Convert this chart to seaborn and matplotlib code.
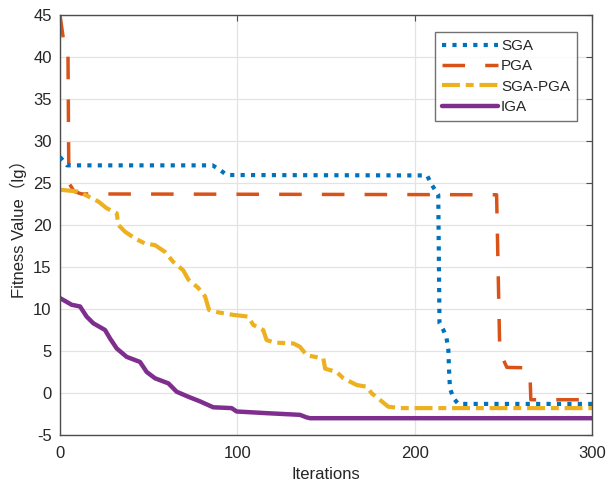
import matplotlib
matplotlib.use("Agg")
import matplotlib.pyplot as plt
import seaborn as sns

# ---- data ----
sga_x = [0, 4, 86, 90, 94, 207, 209.6, 213.3, 214, 216.2, 218, 219, 219.4, 219.9, 221.8, 224.6, 300]
sga_y = [28.1, 27.1, 27.1, 26.6, 25.95, 25.9, 24.8, 23.6, 8.3, 7.5, 6.5, 5.1, 2.7, 0.56, -0.6, -1.3, -1.3]

pga_x = [0, 2, 4.5, 5, 8, 12, 245, 246.2, 248, 252, 263, 265, 265.5, 300]
pga_y = [45, 42, 40.5, 25, 24, 23.7, 23.6, 23.6, 4.9, 3.05, 3.0, 2.5, -0.8, -0.8]

sgapga_x = [0, 9.4, 14.1, 21.6, 26.3, 32, 32.9, 36.7, 42.3, 47.9, 53.6, 59.2, 63.9, 69.5,
            72.4, 78, 81.8, 84, 89.3, 97.7, 106, 109, 114.6, 116.5, 121.2, 131.6, 135.3,
            139.1, 148.5, 149.5, 156, 159.8, 167.3, 172.9, 175.8, 180.5, 185.1, 191.7, 300]
sgapga_y = [24.2, 24.0, 23.6, 22.8, 22.0, 21.4, 20.0, 19.2, 18.4, 17.8, 17.6, 16.8, 15.6, 14.6,
            13.5, 12.5, 11.5, 9.9, 9.6, 9.3, 9.1, 8.1, 7.5, 6.3, 6.0, 5.9, 5.5,
            4.5, 4.1, 2.9, 2.5, 1.75, 0.95, 0.75, -0.04, -0.83, -1.63, -1.8, -1.8]

iga_x = [0, 6.6, 11.3, 15, 18.8, 25.4, 28.2, 32, 37.6, 45.1, 48.9, 53.6, 61.1, 65.8, 72.4,
         79, 86.4, 96.8, 99.6, 116.5, 135.3, 139, 141, 300]
iga_y = [11.3, 10.5, 10.3, 9.1, 8.3, 7.5, 6.5, 5.3, 4.3, 3.7, 2.5, 1.75, 1.15, 0.15, -0.45,
         -1.0, -1.7, -1.8, -2.2, -2.4, -2.6, -2.9, -3.0, -3.0]

labels = ["SGA", "PGA", "SGA-PGA", "IGA"]
x_ticks = [0, 100, 200, 300]
y_ticks = list(range(-5, 50, 5))

sns.set_theme(style="white")
plt.rcParams["font.family"] = ["Liberation Sans", "Noto Sans CJK SC", "DejaVu Sans"]
plt.rcParams["axes.unicode_minus"] = False

fig = plt.figure(figsize=(6.08, 4.88), dpi=100)
ax = fig.add_axes([60 / 608, 1 - 435 / 488, 532 / 608, 420 / 488])

series = [
    (sga_x, sga_y, "#0072BD", 3.0, (0, (1.0, 1.5)), 3),
    (pga_x, pga_y, "#D95319", 2.5, (0, (6.5, 5.8)), 2),
    (sgapga_x, sgapga_y, "#EDB120", 3.0, (0, (4.3, 1.4, 1.9, 1.4)), 2.5),
    (iga_x, iga_y, "#7E2F8E", 3.2, "-", 2),
]
for (xs, ys, col, lw, ls, z), lab in zip(series, labels):
    sns.lineplot(x=xs, y=ys, ax=ax, color=col, linewidth=lw, linestyle=ls,
                 sort=False, estimator=None, label=lab, zorder=z)

ax.set_xlim(0, 300)
ax.set_ylim(-5, 45)
ax.set_xticks(x_ticks)
ax.set_yticks(y_ticks)
ax.grid(True, color="#e3e3e3", linewidth=0.9)
ax.set_axisbelow(True)
for s in ax.spines.values():
    s.set_color("#4d4d4d")
    s.set_linewidth(1.0)
    s.set_visible(True)
ax.tick_params(direction="in", top=True, right=True, length=4, width=0.8,
               color="#4d4d4d", labelsize=12, labelcolor="#262626", pad=6)
ax.tick_params(axis="x", pad=8)

ax.set_xlabel("Iterations", fontsize=12, color="#262626", labelpad=4)
ax.set_ylabel("Fitness Value（lg）", fontsize=12, color="#262626", labelpad=4)

leg = ax.legend(loc="upper right", bbox_to_anchor=((577 - 60) / 532, 1 - (32 - 15) / 420),
                borderaxespad=0, fontsize=11, handlelength=3.7, handletextpad=0.2,
                labelspacing=0.42, borderpad=0.45, frameon=True, fancybox=False)
leg.get_frame().set_edgecolor("#4d4d4d")
leg.get_frame().set_linewidth(1.0)
for t in leg.get_texts():
    t.set_color("#262626")

fig.savefig("out.png", dpi=100)
